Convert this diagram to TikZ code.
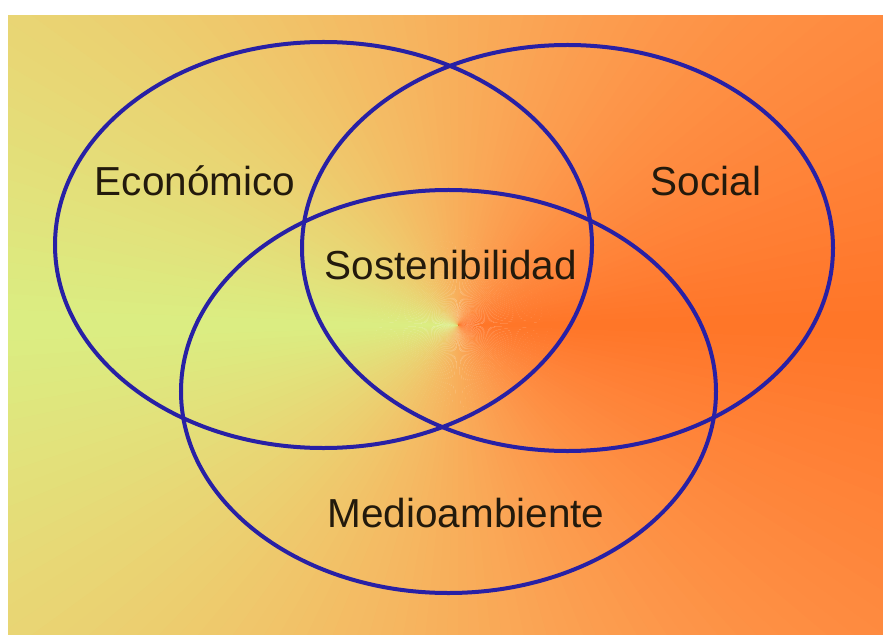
\documentclass[tikz,border=0pt]{standalone}
\usepackage{fontspec}
\setmainfont{Liberation Sans}
\usetikzlibrary{shapes.geometric}
\definecolor{ringblue}{RGB}{40,32,165}
\definecolor{labeltext}{RGB}{35,26,12}
\begin{document}
\begin{tikzpicture}[x=1bp,y=-1bp,
  ring/.style={draw=ringblue, line width=4bp, ellipse, inner sep=0pt},
  vtext/.style={text=labeltext, font=\fontsize{40.5bp}{48bp}\selectfont, inner sep=0pt, anchor=base}]
\useasboundingbox (0,0) rectangle (883,635);
\fill[white] (0,0) rectangle (883,635);
\begin{scope}
  \clip (8,16) rectangle (883,635);
  \foreach \a in {0,2,...,358}{
    \pgfmathsetmacro\t{abs(mod(\a+181,360)-180)}
    \pgfmathsetmacro\u{\t/180}
    \pgfmathsetmacro\rr{(255-37*pow(\u,2.4))/255}
    \pgfmathsetmacro\gg{(118+120*pow(\u,1.1))/255}
    \pgfmathsetmacro\bb{(38+92*pow(\u,0.8))/255}
    \definecolor{wedge}{rgb}{\rr,\gg,\bb}
    \fill[wedge] (458,325) -- +(\a:1200) -- +(\a+2.3:1200) -- cycle;
  }
\end{scope}
\node[ring, minimum width=537bp, minimum height=406bp] (eco) at (323.5,245) {};
\node[ring, minimum width=531bp, minimum height=406bp] (soc) at (567.5,248) {};
\node[ring, minimum width=535bp, minimum height=403bp] (med) at (448.5,391.5) {};
\node[vtext] (teco) at (195,196) {Económico};
\node[vtext] (tsoc) at (706,196) {Social};
\node[vtext] (tsos) at (451,279) {Sostenibilidad};
\node[vtext] (tmed) at (466,527) {Medioambiente};
\end{tikzpicture}
\end{document}
